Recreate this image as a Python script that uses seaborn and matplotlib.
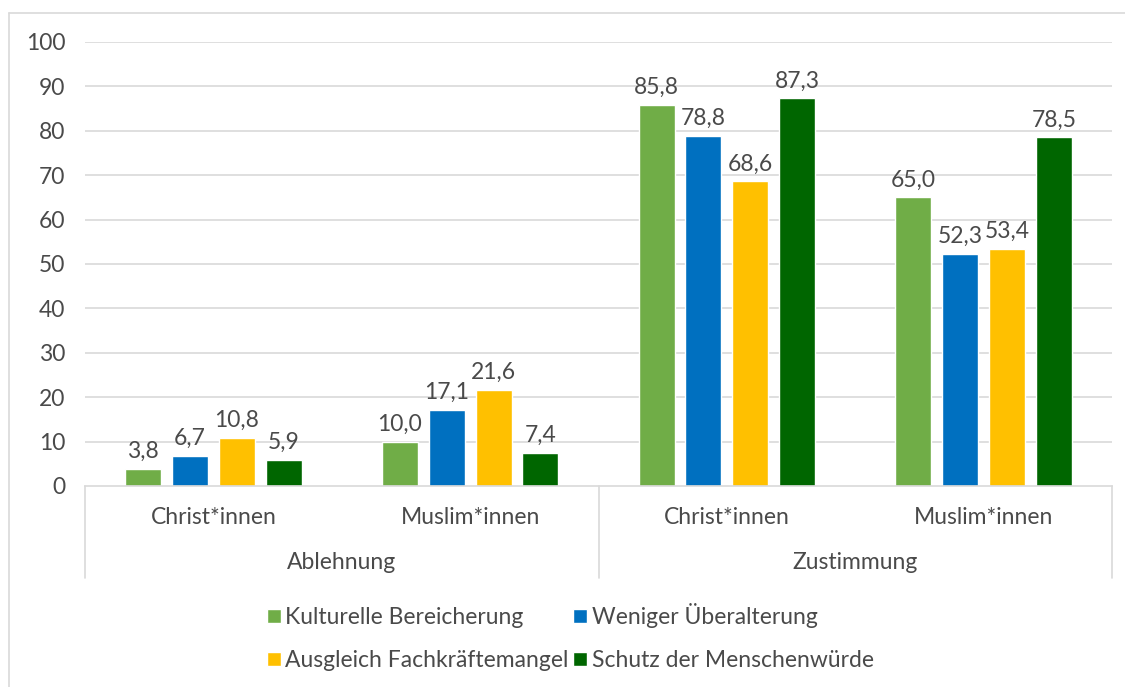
import matplotlib
matplotlib.use("Agg")
import matplotlib.pyplot as plt
from matplotlib.lines import Line2D
from matplotlib.patches import Patch
import seaborn as sns
import pandas as pd

# Daten
haltung = ["Ablehnung", "Ablehnung", "Zustimmung", "Zustimmung"]
gruppe = ["Christ*innen", "Muslim*innen", "Christ*innen", "Muslim*innen"]
serien = ["Kulturelle Bereicherung", "Weniger Überalterung",
          "Ausgleich Fachkräftemangel", "Schutz der Menschenwürde"]
werte = {
    "Kulturelle Bereicherung": [3.8, 10.0, 85.8, 65.0],
    "Weniger Überalterung": [6.7, 17.1, 78.8, 52.3],
    "Ausgleich Fachkräftemangel": [10.8, 21.6, 68.6, 53.4],
    "Schutz der Menschenwürde": [5.9, 7.4, 87.3, 78.5],
}
farben = ["#70AD47", "#0070C0", "#FFC000", "#006600"]
y_ticks = list(range(0, 101, 10))

kategorien = [h + "|" + g for h, g in zip(haltung, gruppe)]
zeilen = []
for s in serien:
    for k, v in zip(kategorien, werte[s]):
        zeilen.append({"kategorie": k, "serie": s, "wert": v})
df = pd.DataFrame(zeilen)

sns.set_theme(style="white")
plt.rcParams["font.family"] = ["Lato", "DejaVu Sans"]
textfarbe = "#4a4a4a"
fs = 16.5

fig = plt.figure(figsize=(11.25, 6.87), dpi=100)
ax = fig.add_axes([85 / 1125, 1 - 486 / 687, (1112 - 85) / 1125, 444 / 687])

sns.barplot(data=df, x="kategorie", y="wert", hue="serie", order=kategorien,
            hue_order=serien, palette=farben, width=0.73, gap=0.23,
            saturation=1, ax=ax, legend=True)

ax.set_xlim(-0.5, 3.5)
ax.set_ylim(0, 100)
ax.set_yticks(y_ticks)
ax.set_yticklabels([str(t) for t in y_ticks], fontsize=fs, color=textfarbe)
ax.tick_params(axis="y", length=0, pad=14)
ax.set_xticks([])
ax.set_xlabel("")
ax.set_ylabel("")
for t in y_ticks[1:]:
    ax.axhline(t, color="#D9D9D9", lw=1.2, zorder=0)
for sp in ["top", "right", "left"]:
    ax.spines[sp].set_visible(False)
ax.spines["bottom"].set_color("#D9D9D9")
ax.spines["bottom"].set_linewidth(1.2)

# Datenbeschriftungen
for cont in ax.containers:
    ax.bar_label(cont, labels=[f"{b.get_height():.1f}".replace(".", ",") for b in cont],
                 padding=5, fontsize=fs, color=textfarbe)

# mehrstufige Achse
for i, g in enumerate(gruppe):
    ax.text(i, -0.07, g, transform=ax.get_xaxis_transform(), ha="center", va="center",
            fontsize=fs, color=textfarbe)
for i, h in enumerate(["Ablehnung", "Zustimmung"]):
    ax.text(2 * i + 0.5, -0.173, h, transform=ax.get_xaxis_transform(), ha="center",
            va="center", fontsize=fs, color=textfarbe)
for x in [-0.5, 1.5, 3.5]:
    ax.add_line(Line2D([x, x], [0, -0.207], transform=ax.get_xaxis_transform(),
                       color="#D9D9D9", lw=1.2, clip_on=False))

# Legende
ax.get_legend().remove()
reihenfolge = [0, 2, 1, 3]
handles = [Patch(facecolor=farben[i]) for i in reihenfolge]
labels = [serien[i] for i in reihenfolge]
fig.legend(handles, labels, ncol=2, loc="center", bbox_to_anchor=(0.507, 1 - 637 / 687),
           frameon=False, fontsize=fs, labelcolor=textfarbe, handlelength=0.6,
           handleheight=0.6, handletextpad=0.2, columnspacing=0.2, labelspacing=0.95)

# Rahmen
fig.add_artist(Line2D([9 / 1125, 9 / 1125], [0, 1 - 13 / 687], color="#D9D9D9", lw=1.2))
fig.add_artist(Line2D([9 / 1125, 1], [1 - 13 / 687, 1 - 13 / 687], color="#D9D9D9", lw=1.2))

fig.savefig("out.png", dpi=100)
